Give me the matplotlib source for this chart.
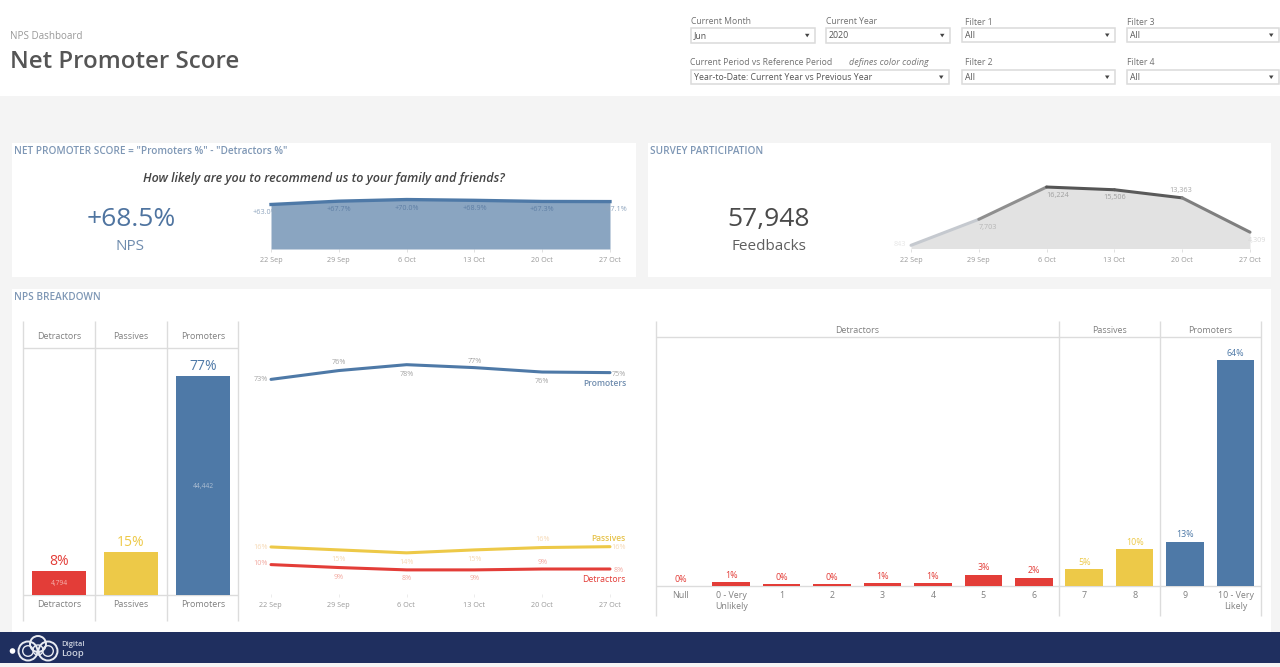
#!/usr/bin/env python
import matplotlib
matplotlib.use('Agg')
import matplotlib.pyplot as plt
from matplotlib.patches import Rectangle, Circle, Polygon

WIDTH = 1280
HEIGHT = 667

BLUE = '#4e79a7'
YELLOW = '#edc948'
RED = '#e33d38'
NAVY = '#1f2f5f'
GREY_LINE = '#dcdcdc'
TITLE_BLUE = '#7e97b5'

weeks = ['22 Sep', '29 Sep', '6 Oct', '13 Oct', '20 Oct', '27 Oct']

nps_values = [63.0, 67.7, 70.0, 68.9, 67.3, 67.1]
nps_labels = ['+63.0%', '+67.7%', '+70.0%', '+68.9%', '+67.3%', '+67.1%']

feedbacks = [843, 7703, 16224, 15506, 13363, 4309]
feedback_labels = ['843', '7,703', '16,224', '15,506', '13,363', '4,309']

groups = ['Detractors', 'Passives', 'Promoters']
group_colors = [RED, YELLOW, BLUE]
group_values = [8.4, 15.3, 77.0]
group_labels = ['8%', '15%', '77%']
group_counts = ['4,794', '', '44,442']

promoters = [73, 76, 78, 77, 75.5, 75.3]
promoter_labels = ['73%', '76%', '78%', '77%', '76%', '75%']
passives = [16, 15, 14, 15, 15.8, 16.1]
passive_labels = ['16%', '15%', '14%', '15%', '16%', '16%']
detractors = [10, 9, 8.2, 8.2, 8.5, 8.5]
detractor_labels = ['10%', '9%', '8%', '9%', '9%', '8%']

scores = ['Null', '0 - Very\nUnlikely', '1', '2', '3', '4', '5', '6', '7', '8',
          '9', '10 - Very\nLikely']
score_values = [0, 1.0, 0.55, 0.55, 0.76, 0.76, 3.2, 2.4, 4.7, 10.4, 12.6, 64]
score_labels = ['0%', '1%', '0%', '0%', '1%', '1%', '3%', '2%', '5%', '10%',
                '13%', '64%']
score_colors = [RED] * 8 + [YELLOW] * 2 + [BLUE] * 2

plt.rcParams['font.family'] = ['Open Sans', 'DejaVu Sans']

fig = plt.figure(figsize=(WIDTH / 100, HEIGHT / 100), dpi=100, facecolor='#f4f4f4')


def pixel_axes(left, top, right, bottom):
    ax = fig.add_axes([left / WIDTH, 1 - bottom / HEIGHT,
                       (right - left) / WIDTH, (bottom - top) / HEIGHT])
    ax.patch.set_alpha(0)
    for spine in ax.spines.values():
        spine.set_visible(False)
    ax.set_xticks([])
    ax.set_yticks([])
    return ax


# two page layers in pixels: panels under the charts, text over them
page = pixel_axes(0, 0, WIDTH, HEIGHT)
page.set_xlim(0, WIDTH)
page.set_ylim(HEIGHT, 0)
overlay = pixel_axes(0, 0, WIDTH, HEIGHT)
overlay.set_xlim(0, WIDTH)
overlay.set_ylim(HEIGHT, 0)
overlay.set_zorder(10)


def box(x0, y0, x1, y1, color='white', z=0):
    page.add_patch(Rectangle((x0, y0), x1 - x0, y1 - y0, fc=color, ec='none', zorder=z))


def label(x, y, s, size=7, color='#777777', ha='center', **kw):
    return overlay.text(x, y + 0.1 * size, s, fontsize=size, color=color, ha=ha, va='center', **kw)


def hline(x0, x1, y, color=GREY_LINE, lw=1.0):
    page.plot([x0, x1], [y, y], color=color, lw=lw, zorder=1, solid_capstyle='butt')


def vline(x, y0, y1, color=GREY_LINE, lw=1.0):
    page.plot([x, x], [y0, y1], color=color, lw=lw, zorder=1, solid_capstyle='butt')


box(0, 0, WIDTH, 96)
box(12, 143, 636, 277)
box(648, 143, 1271, 277)
box(12, 289, 1271, 632)
box(0, 632, WIDTH, 663, NAVY, z=2)

label(10, 35.5, 'NPS Dashboard', 7.1, '#999999', ha='left')
label(10, 60.5, 'Net Promoter Score', 17.3, '#555555', ha='left', fontweight='semibold')


def dropdown(x0, x1, y, title, value, title_x=None, title_y=None):
    tx = x0 if title_x is None else title_x
    ty = y - 14.5 if title_y is None else title_y
    label(tx, ty, title, 6.2, '#707070', ha='left')
    page.add_patch(Rectangle((x0, y - 7.3), x1 - x0, 14.6, fc='white', ec='#dadada', lw=1.1, zorder=1))
    label(x0 + 3, y, value, 6.3, '#555555', ha='left')
    page.add_patch(Polygon([(x1 - 10, y - 1.5), (x1 - 5.5, y - 1.5), (x1 - 7.8, y + 2)],
                           fc='#444444', ec='none', zorder=2))


dropdown(691, 815, 35.3, 'Current Month', 'Jun', title_y=20.5)
dropdown(826, 950, 35.3, 'Current Year', '2020', title_y=20.5)
dropdown(962, 1115, 35, 'Filter 1', 'All', 965, 21.5)
dropdown(1127, 1279, 35, 'Filter 3', 'All', 1127, 21.5)
dropdown(691, 949, 77, 'Current Period vs Reference Period', 'Year-to-Date: Current Year vs Previous Year',
         690, 62)
dropdown(962, 1115, 77, 'Filter 2', 'All', 965, 62.3)
dropdown(1127, 1279, 77, 'Filter 4', 'All', 1127, 62.3)
label(849, 62, 'defines color coding', 6.5, '#777777', ha='left', style='italic')

label(14, 151, 'NET PROMOTER SCORE = "Promoters %" - "Detractors %"', 7.2, TITLE_BLUE, ha='left', fontweight='semibold')
label(650, 151, 'SURVEY PARTICIPATION', 7.2, TITLE_BLUE, ha='left', fontweight='semibold')
label(14, 297, 'NPS BREAKDOWN', 7.2, TITLE_BLUE, ha='left', fontweight='semibold')
label(324, 178, 'How likely are you to recommend us to your family and friends?', 9.0, '#444444',
      style='italic', fontweight='semibold')

label(131, 218, '+68.5%', 19, '#4f74a0')
label(130, 245, 'NPS', 11, '#6f8cae')
label(769, 218, '57,948', 19, '#4a4a4a')
label(769, 245, 'Feedbacks', 11, '#5f5f5f')


def week_axes(top, bottom, ymax):
    # keeps 22 Sep at x=271 and 27 Oct at x=610
    ax = pixel_axes(271, top, 610, bottom)
    ax.set_xlim(0, 5)
    ax.set_ylim(0, ymax)
    return ax


step = 339 / 5

# NPS area
ax = week_axes(190, 249, 83.5)
ax.fill_between(range(6), nps_values, color='#8aa5c1', lw=0)
ax.plot(range(6), nps_values, color=BLUE, lw=2.4, clip_on=False)
nps_pos = [(-6, 212), (0, 208.7), (0, 207.7), (0, 208), (0, 208.7), (5, 209)]
for i in range(6):
    px = 271 + i * step
    color = '#8fa5be' if i in (0, 5) else '#5f7fa5'
    label(px + nps_pos[i][0], nps_pos[i][1], nps_labels[i], 5.2, color)
    label(px, 259.5, weeks[i], 5.2, '#999999')
    vline(px, 249, 252, '#e0e0e0', 0.7)

# participation area
sx = 911
ax = pixel_axes(sx, 175, sx + 339, 248.5)
ax.set_xlim(0, 5)
ax.set_ylim(0, 19400)
ax.fill_between(range(6), feedbacks, color='#e2e2e2', lw=0)
shades = ['#c5c9cf', '#8f8f8f', '#555555', '#5a5a5a', '#7f7f7f']
for i in range(5):
    ax.plot([i, i + 1], feedbacks[i:i + 2], color=shades[i], lw=2.2, solid_capstyle='round', clip_on=False)
feedback_pos = [(-11, 243.7), (9, 227), (11, 195), (0, 197), (-1, 190), (7.5, 240)]
feedback_colors = ['#e6e6e6', '#b5b5b5', '#a0a0a0', '#a0a0a0', '#a8a8a8', '#d8d8d8']
for i in range(6):
    label(sx + i * step + feedback_pos[i][0], feedback_pos[i][1], feedback_labels[i], 5.2, feedback_colors[i])
    label(sx + i * step, 259.5, weeks[i], 5.2, '#999999')
    vline(sx + i * step, 248.5, 252, '#e0e0e0', 0.7)

# group bars
ax = pixel_axes(23, 348, 239, 595)
ax.set_xlim(-0.5, 2.5)
ax.set_ylim(0, 247 / 2.84)
ax.bar(range(3), group_values, width=0.75, color=group_colors)
for i, name in enumerate(groups):
    cx = 59 + i * 72
    label(cx, 335.5, name, 6.5, '#808080')
    label(cx, 604, name, 6.5, '#808080')
    top = 595 - group_values[i] * 2.84
    label(cx, top - 10.5, group_labels[i], 10, group_colors[i])
    label(cx, (595 + top) / 2, group_counts[i], 4.8,
          '#f6b5b0' if i == 0 else '#aebfd3')
for x in [23, 95, 167, 238]:
    vline(x, 321, 621)
hline(23, 238, 348)
hline(23, 238, 595)

# trend lines
ax = week_axes(340, 594, 254 / 2.94)
ax.plot(range(6), promoters, color=BLUE, lw=2.2, solid_capstyle='round', clip_on=False)
ax.plot(range(6), passives, color=YELLOW, lw=2.2, solid_capstyle='round', clip_on=False)
ax.plot(range(6), detractors, color=RED, lw=2.2, solid_capstyle='round', clip_on=False)
prom_y = [379, 362, 373.5, 360.5, 380.5, 373.5]
pass_y = [547, 558.5, 561.5, 558.5, 539, 547]
detr_y = [563, 576.5, 578, 578, 561.5, 569.5]
for i in range(6):
    px = 271 + i * step
    dx = -10 if i == 0 else 9 if i == 5 else 0
    label(px + dx, prom_y[i], promoter_labels[i], 5.2, '#a5a5a5')
    label(px + dx, pass_y[i], passive_labels[i], 5.2, '#f6d9b5')
    label(px + dx, detr_y[i], detractor_labels[i], 5.2, '#f2a9a0')
    label(px - 0.5, 604.5, weeks[i], 5.2, '#999999')
    vline(px, 594, 597, '#ececec', 0.7)
label(626, 382.5, 'Promoters', 6.1, '#6f8cae', ha='right', fontweight='semibold')
label(626, 537.5, 'Passives', 6.1, '#e6c24a', ha='right', fontweight='semibold')
label(626, 578.5, 'Detractors', 6.3, RED, ha='right')

# score bars
left = 655.6
cat = 50.43
ax = pixel_axes(left, 337, left + 12 * cat, 586)
ax.set_xlim(-0.5, 11.5)
ax.set_ylim(0, 249 / 3.53)
ax.bar(range(12), score_values, width=0.745, color=score_colors)
for i, s in enumerate(scores):
    cx = left + (i + 0.5) * cat
    parts = s.split('\n')
    label(cx, 595, parts[0], 6.4, '#808080')
    if len(parts) > 1:
        label(cx, 606, parts[1], 6.4, '#808080')
    top = 586 - score_values[i] * 3.53
    label(cx, top - 7.5, score_labels[i], 6.4, score_colors[i])
for name, first, last in [(groups[0], 0, 8), (groups[1], 8, 10), (groups[2], 10, 12)]:
    label(left + (first + last) / 2 * cat, 330, name, 6.4, '#808080')
for k in [0, 8, 10, 12]:
    vline(left + k * cat, 321, 616)
hline(left, left + 12 * cat, 337)
hline(left, left + 12 * cat, 586)

# footer logo
logo_rings = [(28, 651, 9.5, 1.4), (48, 651, 9.5, 1.4), (38, 644, 8, 1.4),
              (28, 651, 5.3, 1.0), (48, 651, 5.3, 1.0), (38, 650, 5, 1.0)]
for cx, cy, r, lw in logo_rings:
    page.add_patch(Circle((cx, cy), r, fc='none', ec='#e8ebf2', lw=lw, zorder=3))
page.add_patch(Circle((12.5, 651), 2.8, fc='white', ec='none', zorder=3))
label(61, 643.5, 'Digital', 5.4, '#c9cfdc', ha='left', fontweight='semibold')
label(61, 653, 'Loop', 6.8, '#c9cfdc', ha='left', fontweight='semibold')

fig.savefig('out.png', dpi=100, facecolor=fig.get_facecolor())
